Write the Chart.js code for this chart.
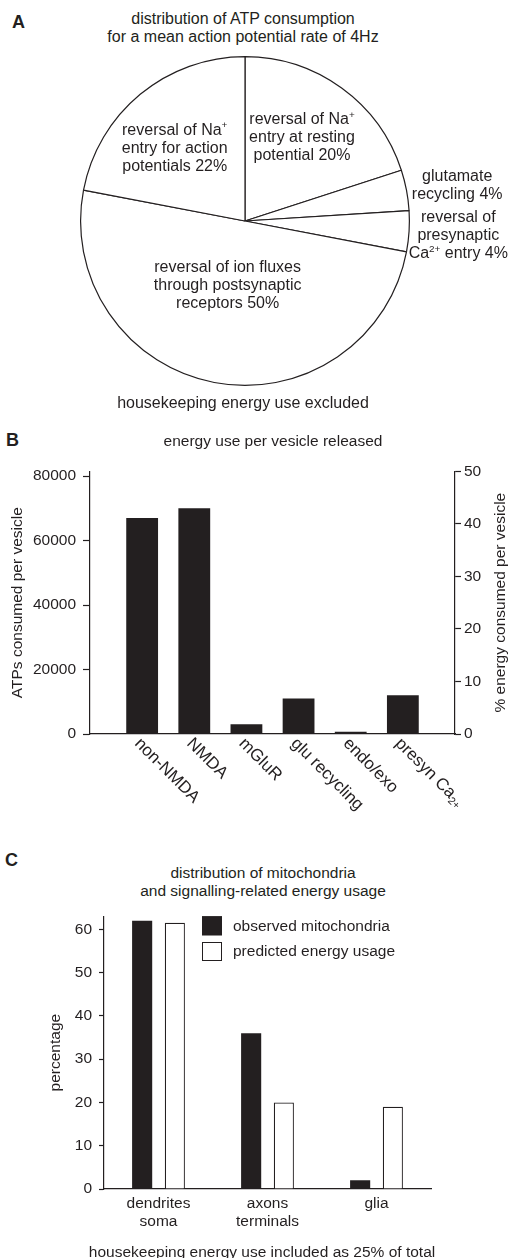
<!DOCTYPE html>
<html>
<head>
<meta charset="utf-8">
<script src="https://cdn.jsdelivr.net/npm/chart.js@4.4.1/dist/chart.umd.min.js"></script>
<style>
  html, body { margin: 0; padding: 0; background: #fff; }
  body { width: 509px; height: 1258px; position: relative; overflow: hidden;
         font-family: "Liberation Sans", Arial, Helvetica, sans-serif; color: #231f20; }
  canvas { position: absolute; left: 0; }
  .txt { position: absolute; white-space: nowrap; transform: translateX(-50%); text-align: center; line-height: 18px; }
  .letter { position: absolute; font-weight: bold; font-size: 18px; line-height: 18px; }
</style>
</head>
<body>
<div class="letter" style="left:12px;top:13px">A</div>
<div class="txt" style="left:243px;top:10px;font-size:16px">distribution of ATP consumption<br>for a mean action potential rate of 4Hz</div>
<canvas id="chartA" width="509" height="415" style="top:0"></canvas>
<div class="txt" style="left:243px;top:394px;font-size:16px">housekeeping energy use excluded</div>

<div class="letter" style="left:6px;top:431px">B</div>
<div class="txt" style="left:273px;top:432px;font-size:15.5px">energy use per vesicle released</div>
<canvas id="chartB" width="509" height="363" style="top:455px"></canvas>

<div class="letter" style="left:5px;top:851px">C</div>
<div class="txt" style="left:263px;top:864px;font-size:15.5px">distribution of mitochondria<br>and signalling-related energy usage</div>
<canvas id="chartC" width="509" height="358" style="top:900px"></canvas>
<div class="txt" style="left:262px;top:1243px;font-size:15.5px">housekeeping energy use included as 25% of total</div>

<script>
// ---- panel A: ATP consumption at 4 Hz (clockwise from 12 o'clock)
const PIE_SLICES = ['Na+ entry at resting potential', 'glutamate recycling', 'presynaptic Ca2+ entry',
                    'postsynaptic receptors', 'Na+ entry for action potentials'];
const PIE_PERCENT = [20, 4, 4, 50, 22];
const PIE_TEXT = [
  ['reversal of Na^{+}', 'entry at resting', 'potential 20%'],
  ['glutamate', 'recycling 4%'],
  ['reversal of', 'presynaptic', 'Ca^{2+} entry 4%'],
  ['reversal of ion fluxes', 'through postsynaptic', 'receptors 50%'],
  ['reversal of Na^{+}', 'entry for action', 'potentials 22%']
];

// ---- panel B: energy use per vesicle
const VESICLE_CATS = ['non-NMDA', 'NMDA', 'mGluR', 'glu recycling', 'endo/exo', 'presyn Ca_{2+}'];
const ATP_PER_VESICLE = [67000, 70000, 3000, 11000, 700, 12000];
const ATP_TICKS = [0, 20000, 40000, 60000, 80000];
const PCT_TICKS = [0, 10, 20, 30, 40, 50];

// ---- panel C: mitochondria vs predicted energy
const REGIONS = [['dendrites', 'soma'], ['axons', 'terminals'], ['glia']];
const MITO_OBSERVED = [62, 36, 2];
const ENERGY_PREDICTED = [61.5, 20, 19];
const PERCENT_TICKS = [0, 10, 20, 30, 40, 50, 60];

const INK = '#231f20';
const FAMILY = '"Liberation Sans", Arial, Helvetica, sans-serif';
Chart.defaults.font.family = FAMILY;
Chart.defaults.color = INK;

// where each pie label sits: fraction of radius, extra turn in degrees
const PIE_TEXT_PLACE = [
  { r: 0.62, turn: -2 },
  { r: 1.31, turn: 1 },
  { r: 1.30, turn: 0 },
  { r: 0.40, turn: 4.5 },
  { r: 0.62, turn: -4 }
];

function richParts(str) {
  const parts = [];
  const re = /([\^_])\{([^}]*)\}/g;
  let last = 0, m;
  while ((m = re.exec(str))) {
    if (m.index > last) parts.push({ t: str.slice(last, m.index), s: 0 });
    parts.push({ t: m[2], s: m[1] === '^' ? 1 : -1 });
    last = re.lastIndex;
  }
  if (last < str.length) parts.push({ t: str.slice(last), s: 0 });
  return parts;
}

// text with super/subscripts, y is the baseline
function drawRich(ctx, str, x, y, size, align) {
  const parts = richParts(str);
  const small = size * 0.62;
  let w = 0;
  parts.forEach(p => { ctx.font = `${p.s ? small : size}px ${FAMILY}`; w += ctx.measureText(p.t).width; });
  let cx = align === 'center' ? x - w / 2 : x;
  ctx.textAlign = 'left';
  ctx.textBaseline = 'alphabetic';
  parts.forEach(p => {
    ctx.font = `${p.s ? small : size}px ${FAMILY}`;
    const dy = p.s > 0 ? -size * 0.4 : p.s < 0 ? size * 0.18 : 0;
    ctx.fillText(p.t, cx, y + dy);
    cx += ctx.measureText(p.t).width;
  });
}

const pieLabels = {
  id: 'pieLabels',
  afterDatasetsDraw(chart) {
    const ctx = chart.ctx;
    ctx.save();
    ctx.fillStyle = INK;
    chart.getDatasetMeta(0).data.forEach((arc, i) => {
      const p = arc.getProps(['x', 'y', 'startAngle', 'endAngle', 'outerRadius'], true);
      const place = PIE_TEXT_PLACE[i];
      const a = (p.startAngle + p.endAngle) / 2 + place.turn * Math.PI / 180;
      const cx = p.x + Math.cos(a) * p.outerRadius * place.r;
      const cy = p.y + Math.sin(a) * p.outerRadius * place.r;
      const lines = PIE_TEXT[i];
      lines.forEach((ln, j) => {
        drawRich(ctx, ln, cx, cy + (j - (lines.length - 1) / 2) * 18 + 5.5, 16, 'center');
      });
    });
    ctx.restore();
  }
};

new Chart(document.getElementById('chartA'), {
  type: 'pie',
  data: {
    labels: PIE_SLICES,
    datasets: [{ data: PIE_PERCENT, backgroundColor: '#fff', borderColor: INK, borderWidth: 1.2,
                 hoverOffset: 0, offset: 0 }]
  },
  options: {
    responsive: false, animation: false,
    layout: { padding: { left: 80, right: 99, top: 56, bottom: 29 } },
    plugins: { legend: { display: false }, tooltip: { enabled: false } }
  },
  plugins: [pieLabels]
});

// x labels of B run down to the right, starting at the bar
const slantedTicks = {
  id: 'slantedTicks',
  afterDraw(chart) {
    const x = chart.scales.x, ctx = chart.ctx;
    ctx.save();
    ctx.fillStyle = INK;
    chart.data.labels.forEach((lab, i) => {
      if (!lab) return;
      ctx.save();
      ctx.translate(x.getPixelForValue(i) - 4, x.top + 6);
      ctx.rotate(Math.PI / 4);
      drawRich(ctx, lab, 0, 6, 17, 'left');
      ctx.restore();
    });
    ctx.restore();
  }
};

const rightTitle = {
  id: 'rightTitle',
  afterDraw(chart) {
    const s = chart.scales.y1, a = chart.chartArea, ctx = chart.ctx;
    ctx.save();
    ctx.translate(s.right - 8, (a.top + a.bottom) / 2);
    ctx.rotate(-Math.PI / 2);
    ctx.fillStyle = INK;
    ctx.font = `15.5px ${FAMILY}`;
    ctx.textAlign = 'center';
    ctx.textBaseline = 'middle';
    ctx.fillText('% energy consumed per vesicle', 0, 0);
    ctx.restore();
  }
};

new Chart(document.getElementById('chartB'), {
  type: 'bar',
  data: {
    labels: ['', ...VESICLE_CATS, ''],
    datasets: [{
      label: 'ATPs consumed per vesicle',
      data: [null, ...ATP_PER_VESICLE, null],
      backgroundColor: INK, borderWidth: 0,
      categoryPercentage: 1, barPercentage: 0.61,
      yAxisID: 'y'
    }]
  },
  options: {
    responsive: false, animation: false,
    layout: { padding: { top: 8, left: 0, right: 0, bottom: 0 } },
    plugins: { legend: { display: false }, tooltip: { enabled: false } },
    scales: {
      x: {
        offset: false,
        grid: { display: false, offset: false },
        border: { color: INK, width: 1.2 },
        ticks: { display: false },
        afterFit: s => { s.height = 84; }
      },
      y: {
        position: 'left', min: 0, max: 81500,
        afterBuildTicks: s => { s.ticks = ATP_TICKS.map(v => ({ value: v })); },
        grid: { drawOnChartArea: false, tickLength: 7, color: INK, tickWidth: 1.2 },
        border: { color: INK, width: 1.2 },
        ticks: { padding: 7, color: INK, font: { size: 15.5 }, callback: v => String(v) },
        title: { display: true, text: 'ATPs consumed per vesicle', color: INK,
                 font: { size: 15.5 }, padding: { top: 8, bottom: 0 } },
        afterFit: s => { s.width = 90; }
      },
      y1: {
        position: 'right', min: 0, max: 50,
        afterBuildTicks: s => { s.ticks = PCT_TICKS.map(v => ({ value: v })); },
        grid: { drawOnChartArea: false, tickLength: 6, color: INK, tickWidth: 1.2 },
        border: { color: INK, width: 1.2 },
        ticks: { padding: 3, color: INK, font: { size: 15.5 } },
        afterFit: s => { s.width = 54; }
      }
    }
  },
  plugins: [slantedTicks, rightTitle]
});

// stacked legend in the upper part of C
const boxLegend = {
  id: 'boxLegend',
  afterDraw(chart) {
    const ctx = chart.ctx, a = chart.chartArea;
    ctx.save();
    chart.data.datasets.forEach((ds, i) => {
      const bx = a.left + 98, by = a.top + i * 25.7;
      ctx.fillStyle = ds.backgroundColor;
      ctx.fillRect(bx, by, 20, 19);
      ctx.strokeStyle = INK;
      ctx.lineWidth = 1;
      ctx.strokeRect(bx + 0.5, by + 0.5, 19, 18);
      ctx.fillStyle = INK;
      ctx.font = `15.5px ${FAMILY}`;
      ctx.textAlign = 'left';
      ctx.textBaseline = 'middle';
      ctx.fillText(ds.label, a.left + 129, by + 10);
    });
    ctx.restore();
  }
};

new Chart(document.getElementById('chartC'), {
  type: 'bar',
  data: {
    labels: REGIONS,
    datasets: [
      { label: 'observed mitochondria', data: MITO_OBSERVED, backgroundColor: INK, borderWidth: 0,
        categoryPercentage: 0.6, barPercentage: 0.615 },
      { label: 'predicted energy usage', data: ENERGY_PREDICTED, backgroundColor: '#fff',
        borderColor: INK, borderWidth: 1.2, categoryPercentage: 0.6, barPercentage: 0.615 }
    ]
  },
  options: {
    responsive: false, animation: false,
    layout: { padding: { top: 7, left: 0, right: 78, bottom: 0 } },
    plugins: { legend: { display: false }, tooltip: { enabled: false } },
    scales: {
      x: {
        grid: { display: false },
        border: { color: INK, width: 1.2 },
        ticks: { padding: -2, color: INK, font: { size: 15.5, lineHeight: 1.16 } },
        afterFit: s => { s.height = 69; }
      },
      y: {
        min: 0, max: 63,
        afterBuildTicks: s => { s.ticks = PERCENT_TICKS.map(v => ({ value: v })); },
        grid: { drawOnChartArea: false, tickLength: 5, color: INK, tickWidth: 1.2 },
        border: { color: INK, width: 1.2 },
        ticks: { padding: 7, color: INK, font: { size: 15.5 } },
        title: { display: true, text: 'percentage', color: INK, font: { size: 15.5 },
                 padding: { top: 46.5, bottom: 0 } },
        afterFit: s => { s.width = 104; }
      }
    }
  },
  plugins: [boxLegend]
});
</script>
</body>
</html>
